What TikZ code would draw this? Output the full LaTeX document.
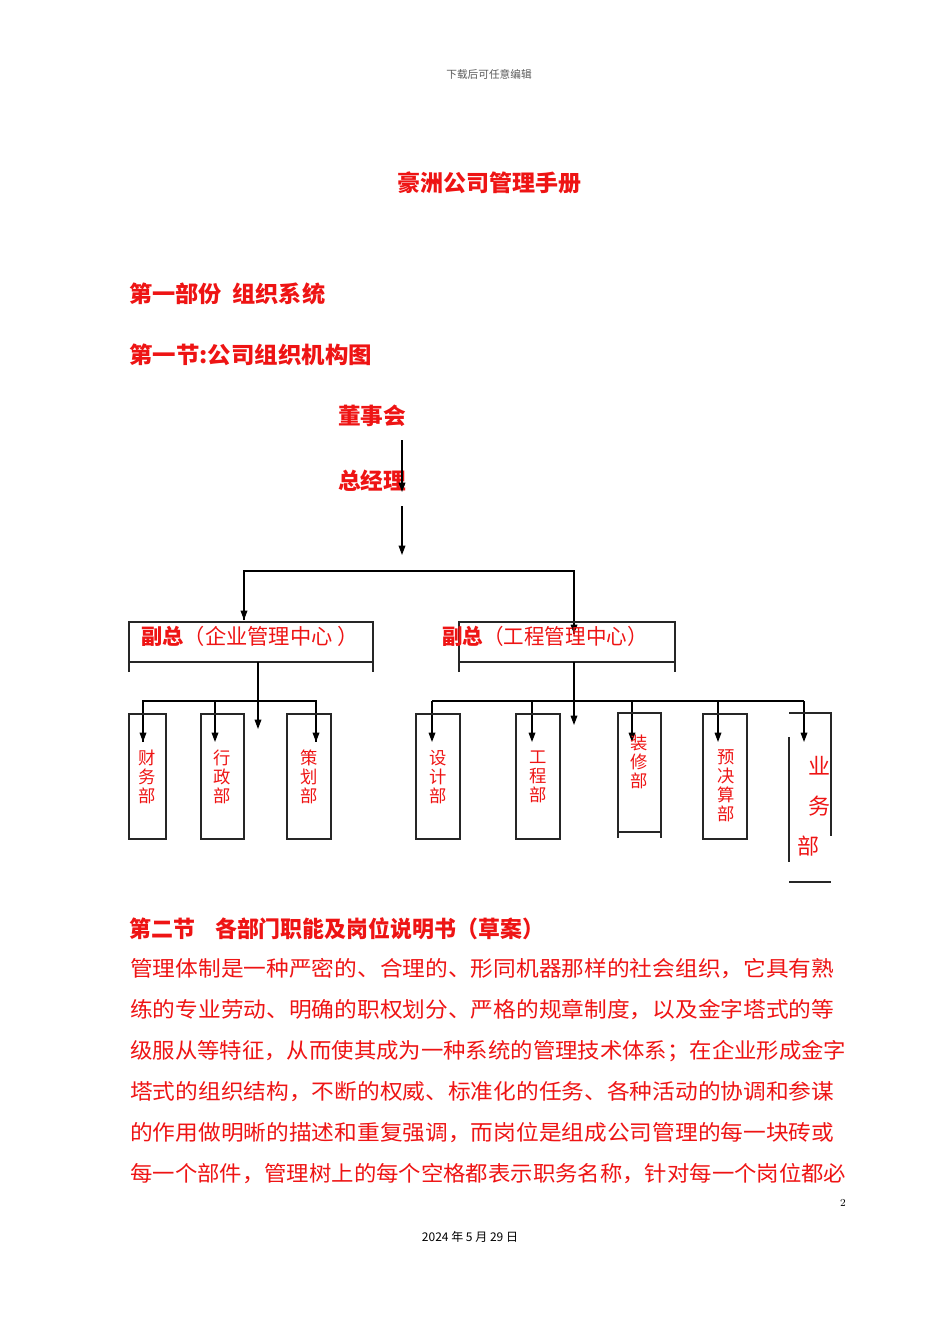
\documentclass[tikz,border=0pt]{standalone}
\usepackage{fontspec}
\usepackage{graphicx}
\usetikzlibrary{arrows.meta}
\newfontfamily\cjk{Noto Sans CJK SC}
\definecolor{cred}{RGB}{238,20,20}
\begin{document}
\begin{tikzpicture}[x=0.75pt,y=-0.75pt,
  ln/.style={line width=0.9pt,black},
  arr/.style={ln,-{Triangle[length=7pt,width=5pt]}},
  gbox/.style={ln,gray!30!black},
  txt/.style={inner sep=0pt,text=cred,font=\cjk},
  vtx/.style={inner sep=0pt,text=cred,font=\cjk\fontsize{13}{14.3}\selectfont,align=center},
  pline/.style={inner sep=0pt,anchor=west,text=cred,font=\cjk\fontsize{16}{16}\selectfont}]
\useasboundingbox (0,0) rectangle (950,1344);
\node[txt,text=gray!70!black,font=\cjk\fontsize{8}{8}\selectfont] (hdr) at (489,74) {下载后可任意编辑};
\node[txt,font=\cjk\bfseries\fontsize{17}{17}\selectfont] (title) at (489,183) {\resizebox{138pt}{\height}{豪洲公司管理手册}};
\node[txt,anchor=west,font=\cjk\bfseries\fontsize{17}{17}\selectfont] (p1) at (129,294) {\resizebox{147pt}{\height}{第一部份\ \ 组织系统}};
\node[txt,anchor=west,font=\cjk\bfseries\fontsize{17}{17}\selectfont] (s1) at (129,355) {\resizebox{182pt}{\height}{第一节:公司组织机构图}};
\node[txt,font=\cjk\bfseries\fontsize{17}{17}\selectfont] (dsh) at (372,416) {董事会};
\node[txt,font=\cjk\bfseries\fontsize{17}{17}\selectfont] (zjl) at (372,481) {总经理};
\coordinate (a1) at (402,440); \coordinate (a2) at (402,492);
\coordinate (b1) at (402,506); \coordinate (b2) at (402,555);
\draw[arr] (a1) -- (a2);
\draw[arr] (b1) -- (b2);
\coordinate (hl) at (244,571); \coordinate (hr) at (574,571);
\coordinate (hlt) at (244,620); \coordinate (hrt) at (574,634);
\draw[ln] (hlt) -- (hl) -- (hr) -- (hrt);
\draw[arr] (244,600) -- (hlt);
\draw[arr] (574,610) -- (hrt);
% left VP box
\draw[gbox] (129,672) -- (129,622) -- (373,622) -- (373,672);
\draw[gbox] (129,662) -- (373,662);
\node[txt,anchor=west,font=\cjk\fontsize{16}{16}\selectfont] (vp1) at (141,636) {\resizebox{163pt}{\height}{\textbf{副总}（企业管理中心\ ）}};
% right VP box
\draw[gbox] (459,672) -- (459,622) -- (675,622) -- (675,672);
\draw[gbox] (459,662) -- (675,662);
\node[txt,anchor=west,font=\cjk\fontsize{16}{16}\selectfont] (vp2) at (442,636) {\resizebox{154pt}{\height}{\textbf{副总}（工程管理中心）}};
% left branch
\coordinate (lm1) at (258,662); \coordinate (lm2) at (258,729);
\draw[arr] (lm1) -- (lm2);
\draw[ln] (143,742) -- (143,701) -- (316,701) -- (316,742);
\draw[arr] (143,701) -- (143,742);
\draw[arr] (215,701) -- (215,742);
\draw[arr] (316,701) -- (316,742);
\foreach \xa/\xb/\t/\n in {129/166/财\\务\\部/cw,201/244/行\\政\\部/xz,287/331/策\\划\\部/ch}{
  \draw[gbox] (\xa,714) rectangle (\xb,839);
  \node[vtx] (\n) at ({(\xa+\xb)/2},777) {\t};
}
% right branch
\coordinate (rm1) at (574,662); \coordinate (rm2) at (574,725);
\draw[arr] (rm1) -- (rm2);
\draw[ln] (432,701) -- (804,701);
\foreach \x in {432,532,632,718,804}{\draw[arr] (\x,701) -- (\x,742);}
\foreach \xa/\xb/\t/\n in {416/460/设\\计\\部/sj,516/560/工\\程\\部/gc}{
  \draw[gbox] (\xa,714) rectangle (\xb,839);
  \node[vtx] (\n) at ({(\xa+\xb)/2},777) {\t};
}
\draw[gbox] (703,714) rectangle (747,839);
\node[vtx] (yjs) at (726,786) {预\\决\\算\\部};
\draw[gbox] (618,838) -- (618,713) -- (661,713) -- (661,838);
\draw[gbox] (618,832) -- (661,832);
\node[vtx] (zx) at (639,762) {装\\修\\部};
\draw[gbox] (789,713) -- (831,713) -- (831,836);
\draw[gbox] (789,737) -- (789,862);
\draw[gbox] (789,882) -- (831,882);
\node[txt,font=\cjk\fontsize{16.5}{16.5}\selectfont] (yw1) at (819,766) {业};
\node[txt,font=\cjk\fontsize{16.5}{16.5}\selectfont] (yw2) at (819,806) {务};
\node[txt,font=\cjk\fontsize{16.5}{16.5}\selectfont] (yw3) at (808,846) {部};
% section 2
\node[txt,anchor=west,font=\cjk\bfseries\fontsize{17}{17}\selectfont] (s2) at (129,929) {\resizebox{311pt}{\height}{第二节\ \ \ \ 各部门职能及岗位说明书（草案）}};
\node[pline] (l1) at (130,969) {\resizebox{528pt}{\height}{管理体制是一种严密的、合理的、形同机器那样的社会组织，它具有熟}};
\node[pline] (l2) at (130,1010) {\resizebox{528pt}{\height}{练的专业劳动、明确的职权划分、严格的规章制度，以及金字塔式的等}};
\node[pline] (l3) at (130,1051) {\resizebox{537pt}{\height}{级服从等特征，从而使其成为一种系统的管理技术体系；在企业形成金字}};
\node[pline] (l4) at (130,1092) {\resizebox{528pt}{\height}{塔式的组织结构，不断的权威、标准化的任务、各种活动的协调和参谋}};
\node[pline] (l5) at (130,1133) {\resizebox{528pt}{\height}{的作用做明晰的描述和重复强调，而岗位是组成公司管理的每一块砖或}};
\node[pline] (l6) at (130,1174) {\resizebox{537pt}{\height}{每一个部件，管理树上的每个空格都表示职务名称，针对每一个岗位都必}};
\node[txt,text=black,font=\fontsize{8}{8}\selectfont] (pg) at (843,1203) {2};
\node[txt,text=black,font=\cjk\fontsize{9}{9}\selectfont] (ft) at (470,1237) {2024 年 5 月 29 日};
\end{tikzpicture}
\end{document}
